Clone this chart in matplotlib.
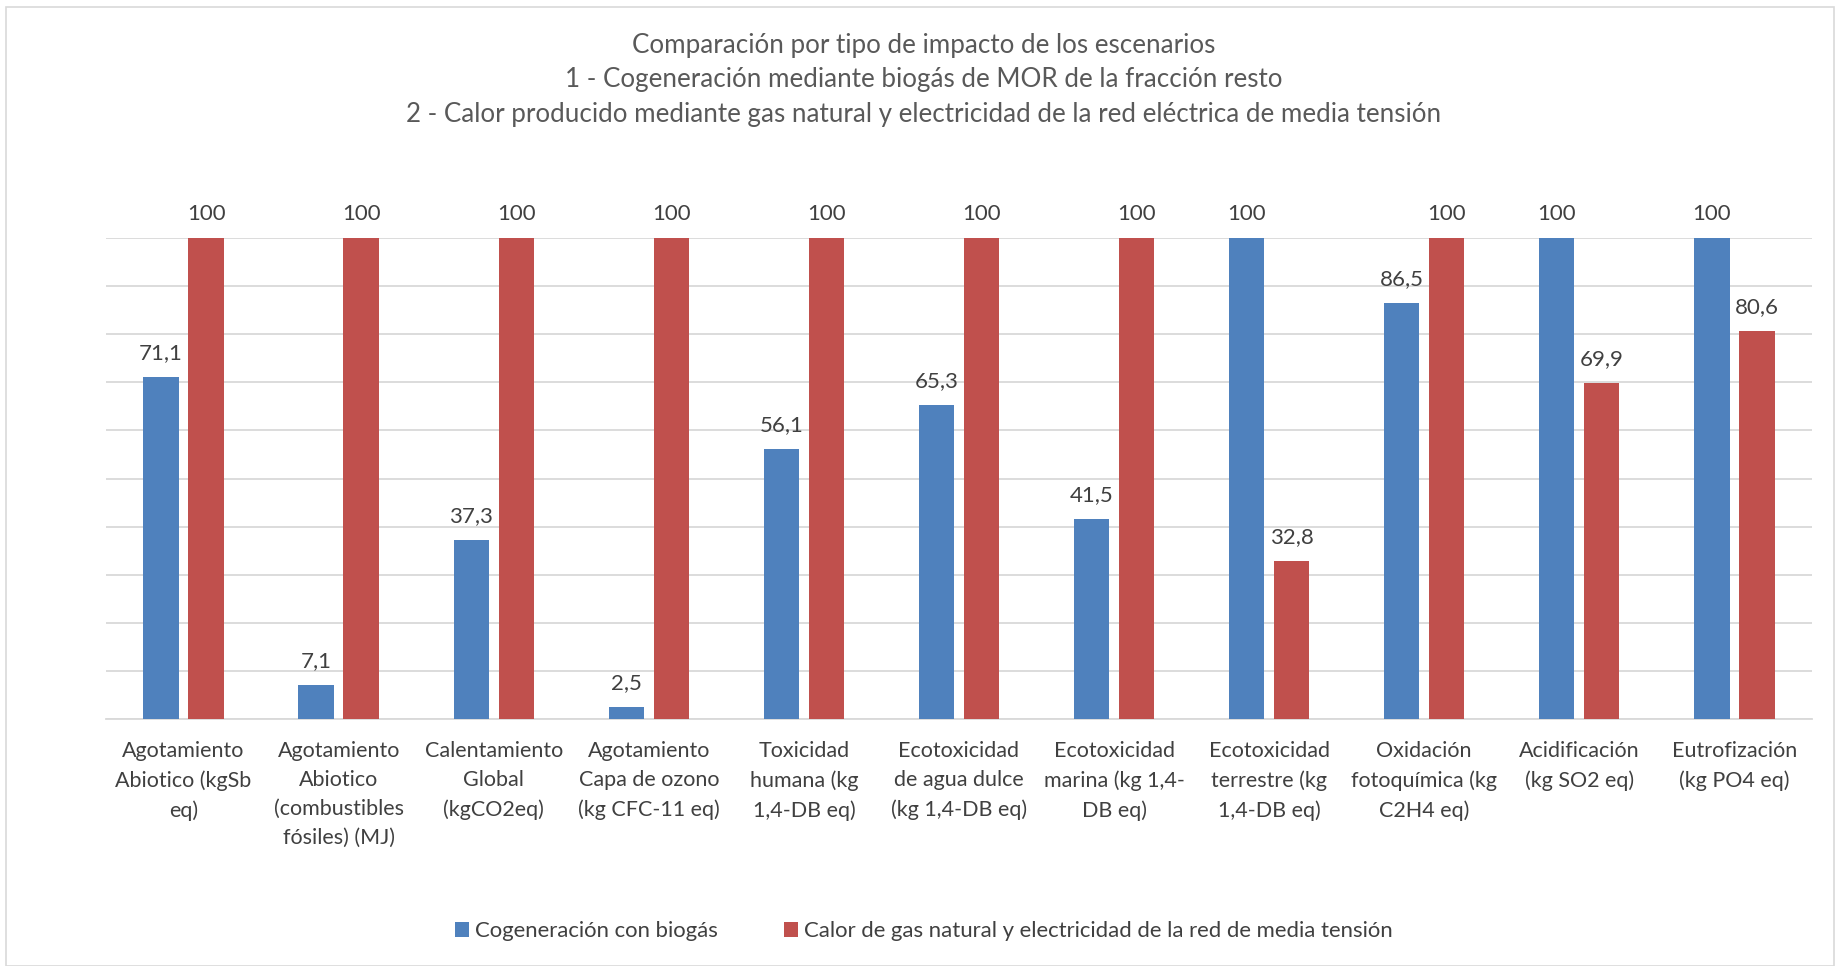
import matplotlib
matplotlib.use("Agg")
import matplotlib.pyplot as plt
import numpy as np
from matplotlib.patches import Rectangle

plt.rcParams['font.family'] = ['Lato', 'DejaVu Sans']

categorias = ["Agotamiento\nAbiotico (kgSb\neq)",
              "Agotamiento\nAbiotico\n(combustibles\nfósiles) (MJ)",
              "Calentamiento\nGlobal\n(kgCO2eq)",
              "Agotamiento\nCapa de ozono\n(kg CFC-11 eq)",
              "Toxicidad\nhumana (kg\n1,4-DB eq)",
              "Ecotoxicidad\nde agua dulce\n(kg 1,4-DB eq)",
              "Ecotoxicidad\nmarina (kg 1,4-\nDB eq)",
              "Ecotoxicidad\nterrestre (kg\n1,4-DB eq)",
              "Oxidación\nfotoquímica (kg\nC2H4 eq)",
              "Acidificación\n(kg SO2 eq)",
              "Eutrofización\n(kg PO4 eq)"]
cogeneracion = [71.1, 7.1, 37.3, 2.5, 56.1, 65.3, 41.5, 100, 86.5, 100, 100]
gas_natural = [100, 100, 100, 100, 100, 100, 100, 32.8, 100, 69.9, 80.6]
series = ["Cogeneración con biogás",
          "Calor de gas natural y electricidad de la red de media tensión"]
titulo = ("Comparación por tipo de impacto de los escenarios\n"
          "1 - Cogeneración mediante biogás de MOR de la fracción resto\n"
          "2 - Calor producido mediante gas natural y electricidad de la red eléctrica de media tensión")

azul = "#4F81BD"
rojo = "#C0504D"
gris = "#404040"

fig = plt.figure(figsize=(18.47, 9.66), dpi=100)
ax = fig.add_axes([0.0574, 0.2557, 0.9236, 0.4979])

x = np.arange(len(categorias))
w = 0.228
b1 = ax.bar(x - 0.145, cogeneracion, w, color=azul, label=series[0], zorder=3)
b2 = ax.bar(x + 0.145, gas_natural, w, color=rojo, label=series[1], zorder=3)

# etiquetas de datos con coma decimal
for bars, vals in ((b1, cogeneracion), (b2, gas_natural)):
    for r, v in zip(bars, vals):
        txt = ("%.1f" % v).replace(".", ",") if v != int(v) else "%d" % v
        ax.annotate(txt, (r.get_x() + r.get_width() / 2, v), xytext=(0, 10),
                    textcoords="offset points", ha="center", va="bottom",
                    fontsize=16, color=gris, annotation_clip=False)

ax.set_xlim(-0.5, len(categorias) - 0.5)
ax.set_ylim(0, 100)
ax.set_yticks(np.arange(0, 101, 10))
ax.yaxis.grid(True, color="#D9D9D9", linewidth=1.3, zorder=0)
ax.tick_params(axis='y', length=0, labelleft=False)
ax.tick_params(axis='x', length=0, pad=16)
ax.set_xticks(x)
ax.set_xticklabels(categorias, fontsize=15.5, color=gris, linespacing=1.55, va="top")
for s in ("top", "left", "right"):
    ax.spines[s].set_visible(False)
ax.spines["bottom"].set_color("#D9D9D9")
ax.spines["bottom"].set_linewidth(1.3)

fig.text(0.5, 0.966, titulo, ha="center", va="top", fontsize=18.7, color="#595959",
         linespacing=1.47)

fig.legend(handles=[b1, b2], loc="center", bbox_to_anchor=(0.5, 0.036), ncol=2,
           frameon=False, fontsize=15.9, handlelength=0.65, handleheight=0.65,
           handletextpad=0.25, columnspacing=3.0, labelcolor=gris)

fig.patches.append(Rectangle((0.003, 0.0), 0.990, 0.993, transform=fig.transFigure,
                             fill=False, edgecolor="#D9D9D9", linewidth=1.2))

fig.savefig("out.png", dpi=100)
